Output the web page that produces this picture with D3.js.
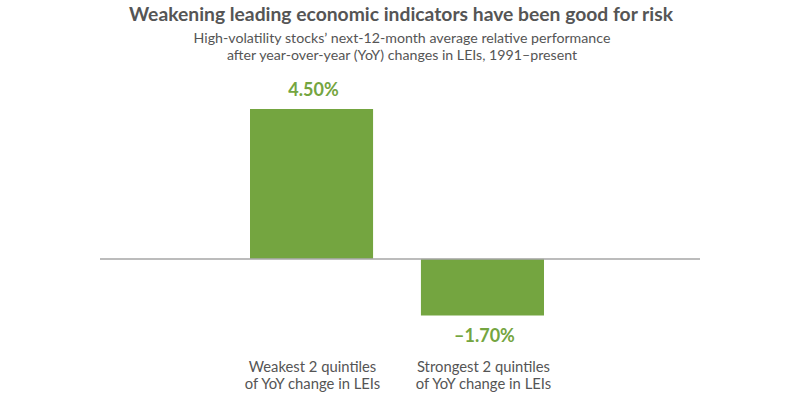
<!DOCTYPE html>
<html>
<head>
<meta charset="utf-8">
<script src="https://cdn.jsdelivr.net/npm/d3@7"></script>
<style>
  body { margin: 0; background: #fff; }
  text { font-family: "Lato", "Noto Sans", sans-serif; }
</style>
</head>
<body>
<div id="chart"></div>
<script>
var categories = ["Weakest 2 quintiles|of YoY change in LEIs", "Strongest 2 quintiles|of YoY change in LEIs"];
var values = [4.5, -1.7];
var valueLabels = ["4.50%", "\u20131.70%"];

var width = 800,
    height = 400,
    green = "#74a540",
    grey = "#555";

var svg = d3.select("#chart")
   .append("svg")
   .attr("width", width)
   .attr("height", height);

// titles
svg.append("text")
   .attr("x", 401).attr("y", 21)
   .attr("text-anchor", "middle")
   .attr("font-size", 19.3)
   .attr("font-weight", "bold")
   .attr("fill", grey)
   .text("Weakening leading economic indicators have been good for risk");

var sub = ["High-volatility stocks\u2019 next-12-month average relative performance",
           "after year-over-year (YoY) changes in LEIs, 1991\u2013present"];
svg.selectAll(".sub")
   .data(sub)
   .enter()
   .append("text")
   .attr("class", "sub")
   .attr("x", 402)
   .attr("y", function(d, i) { return 43 + i * 17; })
   .attr("text-anchor", "middle")
   .attr("font-size", 14.2)
   .attr("fill", grey)
   .text(function(d) { return d; });

var x = d3.scaleBand()
   .domain(categories)
   .range([250, 544])
   .paddingInner(0.28)
   .paddingOuter(0);

var y = d3.scaleLinear()
   .domain([-1.7, 4.5])
   .range([315.5, 109]);

svg.selectAll(".bar")
   .data(values)
   .enter()
   .append("rect")
   .attr("class", "bar")
   .attr("x", function(d, i) { return x(categories[i]); })
   .attr("y", function(d) { return y(Math.max(0, d)); })
   .attr("width", x.bandwidth())
   .attr("height", function(d) { return Math.abs(y(d) - y(0)); })
   .attr("fill", green);

// zero line
svg.append("line")
   .attr("x1", 100).attr("x2", 700)
   .attr("y1", y(0)).attr("y2", y(0))
   .attr("stroke", "#a6a6a6")
   .attr("stroke-width", 1.5);

// value labels
svg.selectAll(".val")
   .data(values)
   .enter()
   .append("text")
   .attr("class", "val")
   .attr("x", function(d, i) { return x(categories[i]) + x.bandwidth() / 2 + 2; })
   .attr("y", function(d) { return d >= 0 ? y(d) - 13 : y(d) + 26; })
   .attr("text-anchor", "middle")
   .attr("font-size", 18)
   .attr("font-weight", "bold")
   .attr("fill", green)
   .text(function(d, i) { return valueLabels[i]; });

// category labels
var cat = svg.selectAll(".cat")
   .data(categories)
   .enter()
   .append("text")
   .attr("class", "cat")
   .attr("text-anchor", "middle")
   .attr("font-size", 14.8)
   .attr("fill", grey);

cat.selectAll("tspan")
   .data(function(d) { return d.split("|").map(function(s) { return {s: s, c: d}; }); })
   .enter()
   .append("tspan")
   .attr("x", function(d) { return x(d.c) + x.bandwidth() / 2 + 1; })
   .attr("y", function(d, i) { return 372 + i * 17; })
   .text(function(d) { return d.s; });
</script>
</body>
</html>
